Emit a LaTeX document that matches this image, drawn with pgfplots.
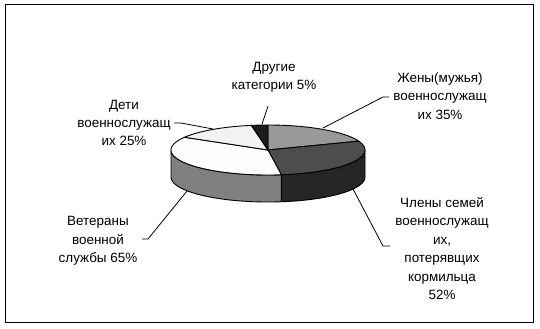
\documentclass[border=0pt]{standalone}
\usepackage{pgfplots}
\pgfplotsset{compat=1.18}
\usepackage{pgfplotstable}
\usepackage{fontspec}
\setmainfont{Liberation Sans}

\pgfplotstableread{
idx value
0 35
1 52
2 65
3 25
4 5
}\piedata

\definecolor{cA}{HTML}{999999}
\definecolor{cB}{HTML}{4D4D4D}
\definecolor{cBs}{HTML}{262626}
\definecolor{cC}{HTML}{FCFCFC}
\definecolor{cCs}{HTML}{808080}
\definecolor{cD}{HTML}{F2F2F2}
\definecolor{cE}{HTML}{1C1C1C}

\def\cx{268}
\def\cy{150}
\def\ra{97}
\def\rb{25}
\def\dd{27}

\newcommand\topslice[3]{%
\addplot[fill=#3, draw=black, line width=0.9bp, domain=0:1.01, samples=102, variable=\s]
 ({\cx + (\s<=1 ? \ra : 0)*cos((#1)+min(\s,1)*((#2)-(#1)))},
  {\cy - (\s<=1 ? \rb : 0)*sin((#1)+min(\s,1)*((#2)-(#1)))}) -- cycle;
}
\newcommand\sideslice[3]{%
\addplot[fill=#3, draw=black, line width=0.9bp, domain=0:3, samples=151, variable=\s]
 ({\cx + \ra*cos( \s<=1 ? (#1)+\s*((#2)-(#1)) : (\s<=2 ? (#2) : (#2)-(\s-2)*((#2)-(#1))) )},
  {\cy - \rb*sin( \s<=1 ? (#1)+\s*((#2)-(#1)) : (\s<=2 ? (#2) : (#2)-(\s-2)*((#2)-(#1))) ) + \dd*min(max(\s-1,0),1)}) -- cycle;
}

\begin{document}
\begin{tikzpicture}
\pgfplotstablegetelem{0}{value}\of\piedata\let\vA\pgfplotsretval
\pgfplotstablegetelem{1}{value}\of\piedata\let\vB\pgfplotsretval
\pgfplotstablegetelem{2}{value}\of\piedata\let\vC\pgfplotsretval
\pgfplotstablegetelem{3}{value}\of\piedata\let\vD\pgfplotsretval
\pgfplotstablegetelem{4}{value}\of\piedata\let\vE\pgfplotsretval
\pgfmathsetmacro\tot{\vA+\vB+\vC+\vD+\vE}
\pgfmathsetmacro\tA{90}
\pgfmathsetmacro\tB{\tA-360*(\vA/\tot)}
\pgfmathsetmacro\tC{\tB-360*(\vB/\tot)}
\pgfmathsetmacro\tD{\tC-360*(\vC/\tot)}
\pgfmathsetmacro\tE{\tD-360*(\vD/\tot)}
\pgfmathsetmacro\tF{\tE-360*(\vE/\tot)}
\begin{axis}[width=540bp, height=328bp, scale only axis,
  xmin=0, xmax=540, ymin=0, ymax=328, y dir=reverse,
  hide axis, clip=false]
\path[draw=none] (axis cs:0,0) rectangle (axis cs:540,328);
\addplot[black, line width=1bp] coordinates {(5,5) (533,5) (533,322) (5,322)} -- cycle;
% side walls (visible front part)
\sideslice{0}{\tC}{cBs}
\sideslice{\tC}{-180}{cCs}
% top faces
\topslice{\tA}{\tB}{cA}
\topslice{\tB}{\tC}{cB}
\topslice{\tC}{\tD}{cC}
\topslice{\tD}{\tE}{cD}
\topslice{\tE}{\tF}{cE}
% leader lines
\addplot[black, line width=0.8bp] coordinates {(268,106) (262,124)};
\addplot[black, line width=0.8bp] coordinates {(323,128) (383,97) (389,97)};
\addplot[black, line width=0.8bp] coordinates {(174,123) (181,123) (213,129)};
\addplot[black, line width=0.8bp] coordinates {(142,239) (148,239) (187,191)};
\addplot[black, line width=0.8bp] coordinates {(390,246) (383,246) (353,189)};
% labels
\tikzset{lab/.style={align=center, inner sep=0pt, font=\fontsize{13.5}{18.5}\selectfont}}
\node[lab] at (axis cs:274,77) {Другие\\категории 5\%};
\node[lab] at (axis cs:440,96) {Жены(мужья)\\военнослужащ\\их 35\%};
\node[lab] at (axis cs:124,123) {Дети\\военнослужащ\\их 25\%};
\node[lab] at (axis cs:98,241) {Ветераны\\военной\\службы 65\%};
\node[lab] at (axis cs:442,248.5) {Члены семей\\военнослужащ\\их,\\потерявщих\\кормильца\\52\%};
\end{axis}
\end{tikzpicture}
\end{document}
